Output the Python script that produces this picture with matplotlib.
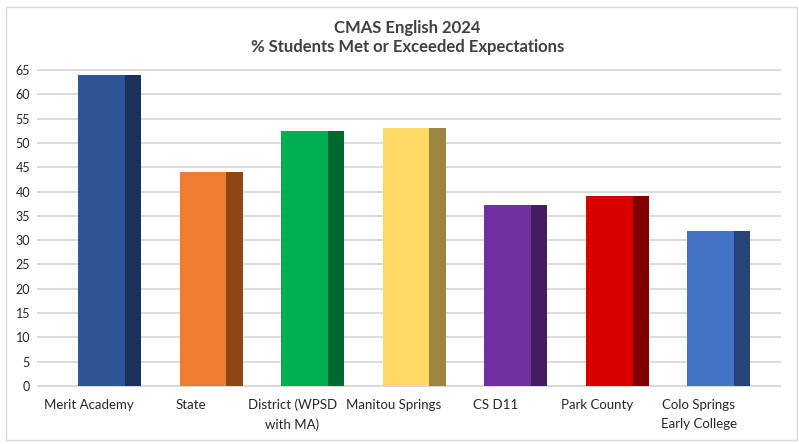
import numpy as np
import matplotlib.pyplot as plt
from matplotlib.patches import Rectangle

categories = ["Merit Academy", "State", "District (WPSD\nwith MA)", "Manitou Springs",
              "CS D11", "Park County", "Colo Springs\nEarly College"]
values = [64.0, 44.0, 52.5, 53.1, 37.3, 39.1, 31.9]
front_colors = ["#2F5597", "#ED7D31", "#00B050", "#FFD966", "#7030A0", "#D90000", "#4472C4"]
side_colors = ["#1C325C", "#8C4714", "#00692F", "#9C853F", "#431D61", "#800000", "#27457A"]

plt.rcParams['font.family'] = ['Lato', 'DejaVu Sans']

fig = plt.figure(figsize=(7.99, 4.44), dpi=100)
ax = fig.add_axes([0.048, 0.1306, 0.928, 0.7117])

x = np.arange(len(categories))
ax.bar(x - 0.11, values, width=0.46, align='edge', color=front_colors, zorder=3)
ax.bar(x + 0.35, values, width=0.16, align='edge', color=side_colors, zorder=3)

ax.set_xlim(-0.5, 6.8)
ax.set_ylim(0, 65)
ax.set_yticks(range(0, 66, 5))
ax.yaxis.grid(True, color="#D9D9D9", linewidth=1.3, zorder=0)
ax.set_axisbelow(True)
for s in ax.spines.values():
    s.set_visible(False)
ax.tick_params(axis='both', length=0, labelsize=9, colors="#262626")
ax.tick_params(axis='y', pad=6)
ax.tick_params(axis='x', pad=9)
ax.set_xticks(x)
ax.set_xticklabels(categories, fontsize=9.5, linespacing=1.7)
ax.axhline(0, color="#D9D9D9", linewidth=1.3, zorder=1, clip_on=False)
for gl in ax.get_ygridlines():
    gl.set_clip_on(False)

fig.text(0.51, 0.937, "CMAS English 2024", ha='center', va='center',
         fontsize=12, fontweight='bold', color="#404040")
fig.text(0.51, 0.895, "% Students Met or Exceeded Expectations", ha='center', va='center',
         fontsize=12, fontweight='bold', color="#404040")

fig.patches.append(Rectangle((0.007, 0.01), 0.99, 0.975, transform=fig.transFigure,
                             fill=False, edgecolor="#D9D9D9", linewidth=1))

plt.savefig('out.png')
